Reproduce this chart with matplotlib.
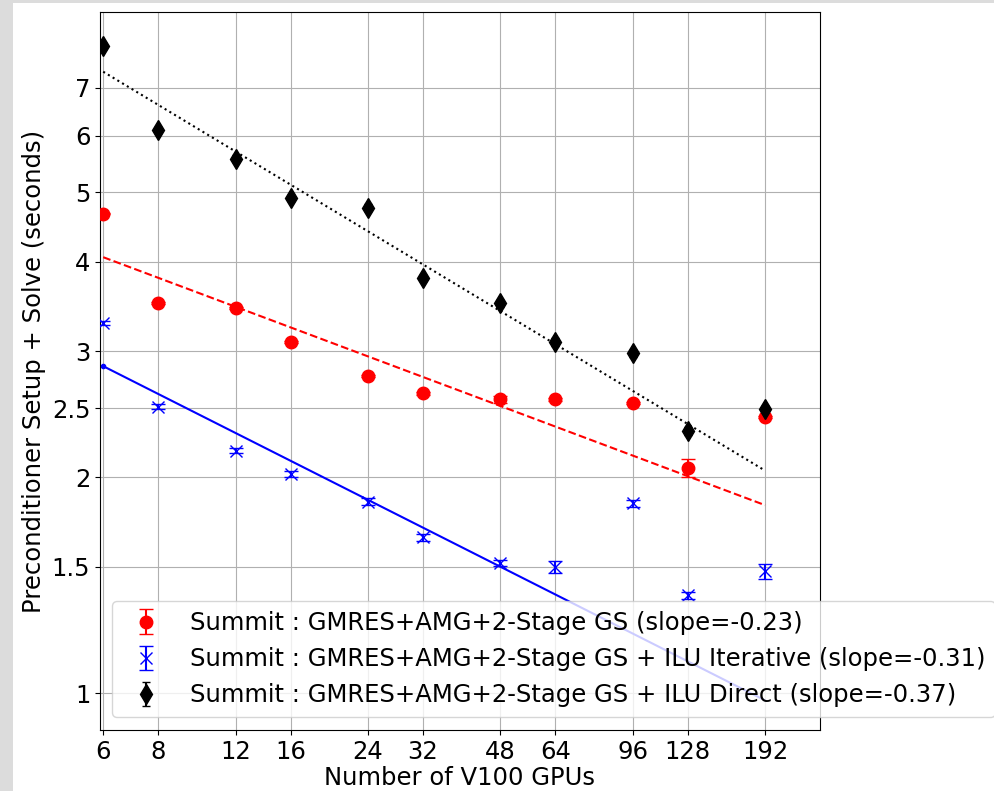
import numpy as np
import matplotlib
matplotlib.use("Agg")
import matplotlib.pyplot as plt
from matplotlib.patches import Rectangle

# GPU counts
gpus = [6, 8, 12, 16, 24, 32, 48, 64, 96, 128, 192]

# measured times (seconds) and error bars
t_gs = [4.67, 3.50, 3.45, 3.09, 2.77, 2.62, 2.57, 2.57, 2.54, 2.06, 2.43]
e_gs = [0.01, 0.01, 0.01, 0.01, 0.01, 0.01, 0.03, 0.01, 0.01, 0.06, 0.01]

t_iter = [3.29, 2.51, 2.18, 2.02, 1.85, 1.65, 1.52, 1.50, 1.84, 1.37, 1.48]
e_iter = [0.02, 0.02, 0.02, 0.02, 0.02, 0.02, 0.015, 0.03, 0.02, 0.015, 0.035]

t_direct = [8.00, 6.11, 5.57, 4.91, 4.76, 3.80, 3.50, 3.09, 2.98, 2.32, 2.49]
e_direct = [0.08, 0.06, 0.06, 0.05, 0.05, 0.04, 0.04, 0.04, 0.03, 0.03, 0.03]

# power-law fits: value at 6 GPUs and slope
fit_c = [4.06, 2.86, 7.37]
fit_slope = [-0.23, -0.31, -0.37]

labels = ["Summit : GMRES+AMG+2-Stage GS (slope=-0.23)",
          "Summit : GMRES+AMG+2-Stage GS + ILU Iterative (slope=-0.31)",
          "Summit : GMRES+AMG+2-Stage GS + ILU Direct (slope=-0.37)"]

xticks = [6, 8, 12, 16, 24, 32, 48, 64, 96, 128, 192]
yticks = [1, 1.5, 2, 2.5, 3, 4, 5, 6, 7]
ytick_labels = ["1", "1.5", "2", "2.5", "3", "4", "5", "6", "7"]

fs = 17.5

fig = plt.figure(figsize=(9.94, 7.91), dpi=100, facecolor="#dcdcdc")
fig.patches.append(Rectangle((13/994, 0), 1, 1 - 3/791, transform=fig.transFigure,
                             facecolor="white", edgecolor="none", zorder=-1))
ax = fig.add_axes([100/994, 1 - 730/791, 720/994, 718/791])

x = np.array(gpus, dtype=float)
ax.errorbar(gpus, t_gs, yerr=e_gs, fmt="o", color="red", markersize=9,
            capsize=5, label=labels[0], zorder=3)
ax.errorbar(gpus, t_iter, yerr=e_iter, fmt="x", color="blue", markersize=9,
            capsize=5, label=labels[1], zorder=3)
ax.errorbar(gpus, t_direct, yerr=e_direct, fmt="d", color="black", markersize=10,
            capsize=3, label=labels[2], zorder=3)

styles = [dict(color="red", linestyle="--"),
          dict(color="blue", linestyle="-", marker=".", markevery=[0], markersize=6),
          dict(color="black", linestyle=":")]
for c, s, st in zip(fit_c, fit_slope, styles):
    ax.plot(x, c * (x / x[0]) ** s, linewidth=1.5, zorder=2, **st)

ax.set_xscale("log")
ax.set_yscale("log")
ax.set_xlim(5.9, 256)
ax.set_ylim(0.888, 8.93)
ax.set_xticks(xticks)
ax.set_xticklabels([str(v) for v in xticks])
ax.set_yticks(yticks)
ax.set_yticklabels(ytick_labels)
ax.minorticks_off()
ax.tick_params(labelsize=fs)
ax.grid(True)
ax.set_axisbelow(True)

ax.set_xlabel("Number of V100 GPUs", fontsize=fs, labelpad=1.5)
ax.set_ylabel("Preconditioner Setup + Solve (seconds)", fontsize=fs)

ax.legend(loc="lower left", bbox_to_anchor=(0.0167, 0.018), fontsize=fs,
          borderaxespad=0)

fig.savefig("out.png", dpi=100, facecolor=fig.get_facecolor())
